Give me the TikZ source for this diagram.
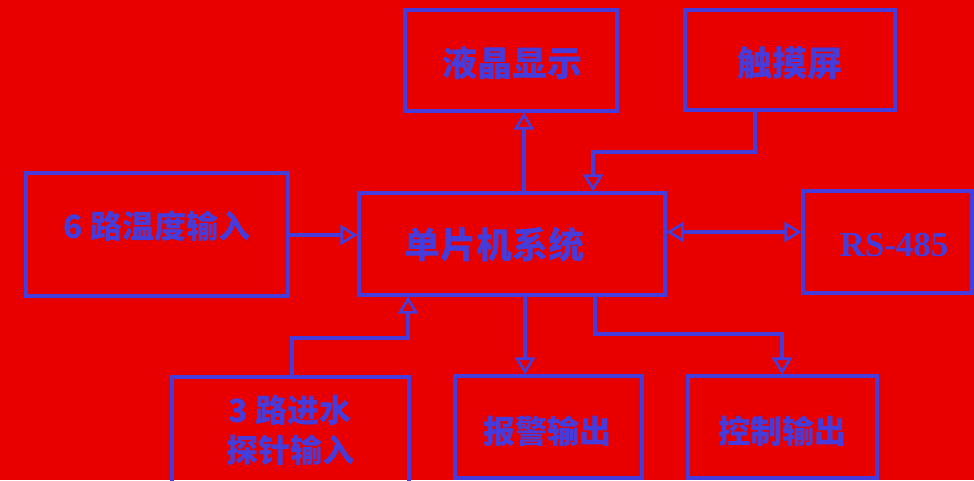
\documentclass[tikz,border=0pt]{standalone}
\usepackage{fontspec}
\newfontfamily\cjk{Noto Sans CJK SC}
\setmainfont{Liberation Serif}
\usetikzlibrary{arrows.meta}
\definecolor{bgred}{RGB}{232,0,0}
\definecolor{lineblue}{RGB}{70,60,220}
\tikzset{
  box/.style={draw=lineblue, line width=3.2pt, inner sep=0pt, text=lineblue},
  lbl/.style={text=lineblue, inner sep=0pt, font=\cjk\bfseries\fontsize{32}{40}\selectfont, align=center},
  conn/.style={draw=lineblue, line width=3.2pt},
  tip/.style={Triangle[open, length=17pt, width=20pt, line width=2.6pt]},
  arr/.style={conn, -{Triangle[open, length=17pt, width=20pt, line width=2.6pt]}},
  darr/.style={conn, {Triangle[open, length=17pt, width=20pt, line width=2.6pt]}-{Triangle[open, length=17pt, width=20pt, line width=2.6pt]}}
}
\begin{document}
\begin{tikzpicture}[x=1pt,y=-1pt]
\fill[bgred] (0,0) rectangle (974,480);
\useasboundingbox (0,0) rectangle (974,480);
% boxes
\node[box, minimum width=212pt, minimum height=101pt] (lcd) at (511,60.5) {};
\node[box, minimum width=210pt, minimum height=100pt] (touch) at (790,60) {};
\node[box, minimum width=262pt, minimum height=123pt] (temp) at (157,234.5) {};
\node[box, minimum width=306pt, minimum height=102pt] (mcu) at (512,244) {};
\node[box, minimum width=169pt, minimum height=102pt] (rs) at (887.5,242) {};
\node[box, minimum width=237pt, minimum height=108pt] (probe) at (290.5,431) {};
\node[box, minimum width=187pt, minimum height=102pt] (alarm) at (548.5,427) {};
\node[box, minimum width=189pt, minimum height=102pt] (ctrl) at (782.5,427) {};
% labels
\node[lbl, font=\cjk\bfseries\fontsize{35}{40}\selectfont] (lcdt) at (512,63) {液晶显示};
\node[lbl, font=\cjk\bfseries\fontsize{35}{40}\selectfont] (toucht) at (790,63) {触摸屏};
\node[lbl] (tempt) at (157,226) {6 路温度输入};
\node[lbl, font=\cjk\bfseries\fontsize{36}{40}\selectfont] (mcut) at (494,245) {单片机系统};
\node[lbl, font=\rmfamily\bfseries\fontsize{35}{40}\selectfont] (rst) at (894,245) {RS-485};
\node[lbl] (probet) at (290,430) {3 路进水\\探针输入};
\node[lbl] (alarmt) at (547,431) {报警输出};
\node[lbl] (ctrlt) at (782,431) {控制输出};
% helper coordinates
\coordinate (xa) at (524,0);
\coordinate (xb) at (755,0);
\coordinate (xc) at (593,0);
\coordinate (yb) at (0,152);
\coordinate (ytemp) at (0,235);
\coordinate (yrs) at (0,232);
\coordinate (xd) at (292,0);
\coordinate (xe) at (408,0);
\coordinate (ye) at (0,338);
\coordinate (xf) at (525,0);
\coordinate (xg) at (595,0);
\coordinate (yg) at (0,334);
\coordinate (xh) at (782,0);
% connectors
\draw[arr] (mcu.north -| xa) -- (lcd.south -| xa);
\draw[arr] (touch.south -| xb) -- (xb |- yb) -- (xc |- yb) -- (mcu.north -| xc);
\draw[arr] (temp.east |- ytemp) -- (mcu.west |- ytemp);
\draw[darr] (mcu.east |- yrs) -- (rs.west |- yrs);
\draw[arr] (probe.north -| xd) -- (xd |- ye) -- (xe |- ye) -- (mcu.south -| xe);
\draw[arr] (mcu.south -| xf) -- (alarm.north -| xf);
\draw[arr] (mcu.south -| xg) -- (xg |- yg) -- (xh |- yg) -- (ctrl.north -| xh);
\end{tikzpicture}
\end{document}
